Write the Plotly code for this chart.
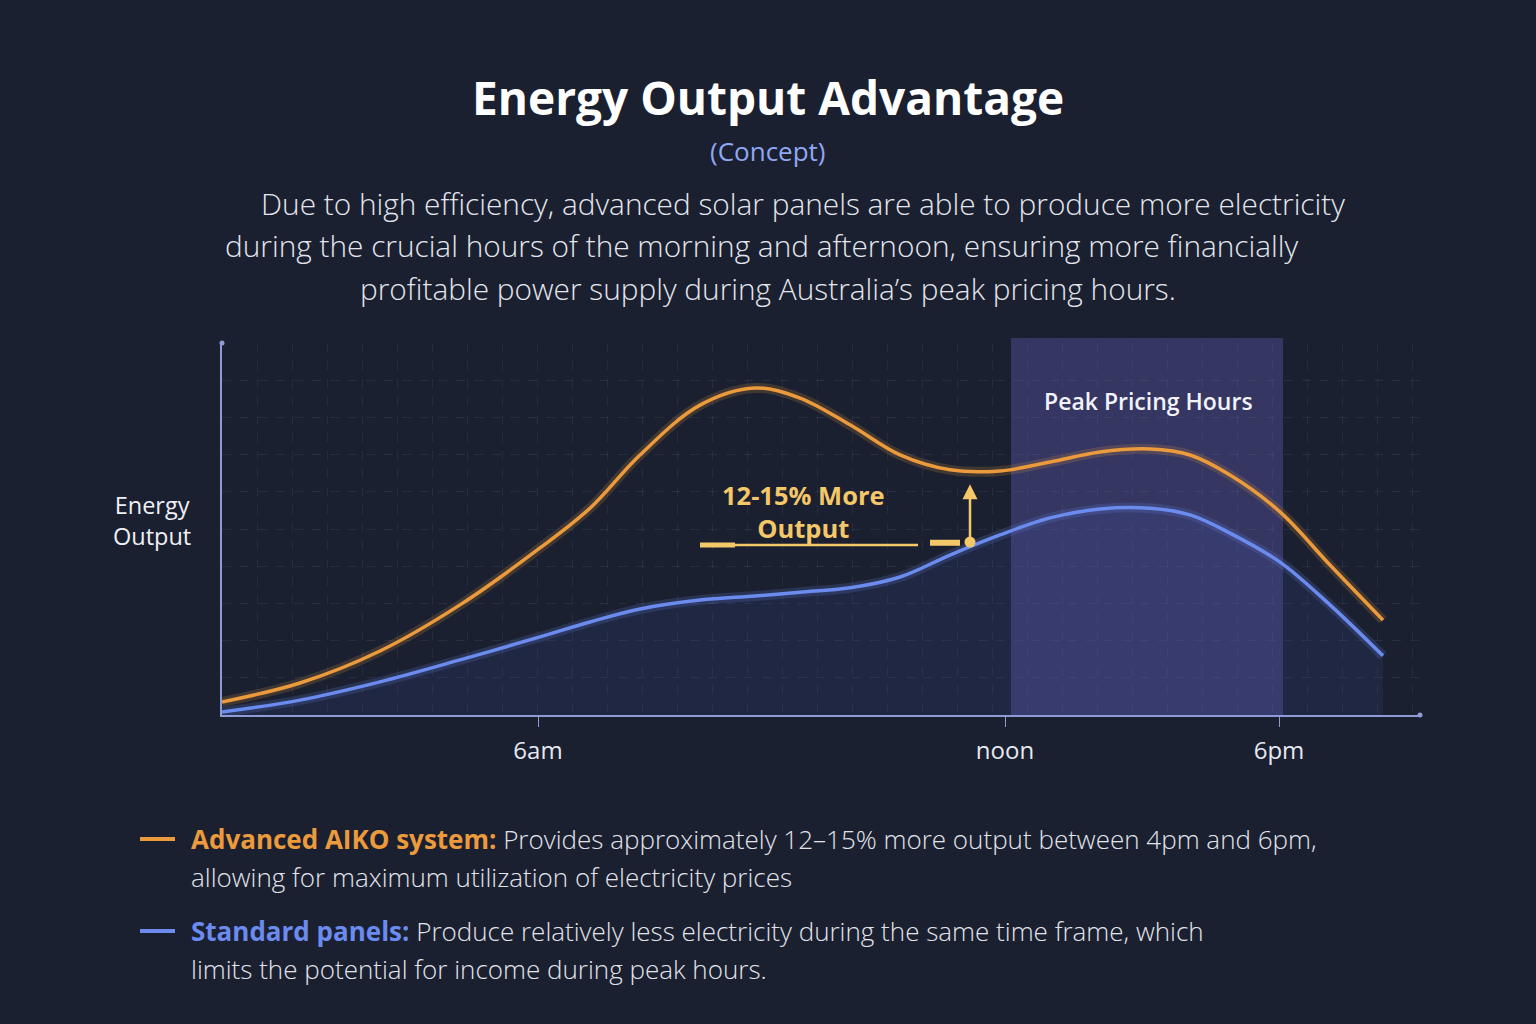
import plotly.graph_objects as go

# ---------------- data ----------------
pos = [0, 7.8, 15.8, 23.8, 31.8, 36.8, 41.8, 47.8, 53.3, 57.8, 62.8, 67.8, 72.8, 77.8,
       82.8, 87.8, 92.8, 96.8, 100.8, 105.8, 110.8, 116.1]
advanced = [3.5, 8.6, 17.2, 29.6, 44.9, 55.6, 69.9, 83.3, 87.9, 85.2, 78.0, 69.9, 65.9, 65.6,
            68.0, 70.7, 71.5, 69.9, 64.5, 54.6, 40.3, 25.5]
standard = [0.8, 4.0, 8.9, 14.8, 21.0, 25.0, 28.5, 30.9, 32.0, 33.0, 34.2, 37.1, 43.0, 48.4,
            53.0, 55.4, 55.6, 53.8, 48.9, 41.1, 29.6, 15.9]
tick_pos = [31.6, 78.3, 105.7]
tick_labels = ["6am", "noon", "6pm"]
peak_start, peak_end = 78.9, 106.1
gain_x = 74.8
gain_from, gain_to = 46.5, 62.0

W, H = 1536, 1024
BG = "#1b2030"
ORANGE = "#eb9a3c"
BLUE = "#6b8bef"
GOLD = "#f4c768"
AXIS = "#8e9bd4"


def px(p):
    return p / W


def py(p):
    return 1 - p / H


fig = go.Figure()


def text(t, cx, cy, size, color, weight=400, xanchor="center"):
    fig.add_annotation(x=px(cx), y=py(cy), xref="paper", yref="paper", showarrow=False,
                       xanchor=xanchor, yanchor="middle", text=t, borderpad=0,
                       font=dict(family="Open Sans", size=size, color=color, weight=weight))


# peak pricing band
fig.add_shape(type="rect", xref="x", yref="paper", x0=peak_start, x1=peak_end,
              y0=py(715), y1=py(338), fillcolor="rgba(98,92,180,0.38)", line_width=0,
              layer="below")

# blue area fill
fig.add_trace(go.Scatter(x=pos, y=standard, mode="lines", line=dict(width=0, shape="spline"),
                         fill="tozeroy", fillcolor="rgba(70,90,190,0.13)", hoverinfo="skip",
                         showlegend=False))
# glows
fig.add_trace(go.Scatter(x=pos, y=standard, mode="lines",
                         line=dict(color="rgba(107,139,239,0.18)", width=10, shape="spline"),
                         hoverinfo="skip", showlegend=False))
fig.add_trace(go.Scatter(x=pos, y=advanced, mode="lines",
                         line=dict(color="rgba(235,154,60,0.18)", width=10, shape="spline"),
                         hoverinfo="skip", showlegend=False))
# main curves
fig.add_trace(go.Scatter(x=pos, y=standard, mode="lines", name="Standard panels",
                         line=dict(color=BLUE, width=3.5, shape="spline"), showlegend=False))
fig.add_trace(go.Scatter(x=pos, y=advanced, mode="lines", name="Advanced AIKO system",
                         line=dict(color=ORANGE, width=3.5, shape="spline"), showlegend=False))

# axis end dots
fig.add_trace(go.Scatter(x=[0, 119.8], y=[100, 0], mode="markers",
                         marker=dict(color=AXIS, size=5), cliponaxis=False,
                         hoverinfo="skip", showlegend=False))

# gain annotation: leader lines, dot and arrow
fig.add_shape(type="line", xref="x", yref="y", x0=47.8, x1=69.6, y0=45.7, y1=45.7,
              line=dict(color=GOLD, width=2.5))
fig.add_shape(type="line", xref="x", yref="y", x0=47.8, x1=51.3, y0=45.7, y1=45.7,
              line=dict(color=GOLD, width=5))
fig.add_shape(type="line", xref="x", yref="y", x0=70.8, x1=73.8, y0=46.3, y1=46.3,
              line=dict(color=GOLD, width=6))
fig.add_trace(go.Scatter(x=[gain_x], y=[gain_from], mode="markers",
                         marker=dict(color=GOLD, size=11), hoverinfo="skip", showlegend=False))
fig.add_annotation(x=gain_x, y=gain_to, ax=gain_x, ay=gain_from, xref="x", yref="y",
                   axref="x", ayref="y", showarrow=True, arrowhead=2, arrowsize=1.2,
                   arrowwidth=2.5, arrowcolor=GOLD, text="")
text("<b>12-15% More<br>Output</b>", 803, 511, 25.5, GOLD)

text("Peak Pricing Hours", 1148, 401, 23, "#f2f3fa", 600)

# y axis title
text("Energy<br>Output", 152, 520, 23.5, "#eef0f6")

# title block
text("<b>Energy Output Advantage</b>", 768, 97, 46, "#ffffff")
text("(Concept)", 768, 151, 26, "#8fa8f2", 500)
para = [
    ("Due to high efficiency, advanced solar panels are able to produce more electricity", 803, 203),
    ("during the crucial hours of the morning and afternoon, ensuring more financially", 762, 245),
    ("profitable power supply during Australia\u2019s peak pricing hours.", 768, 288),
]
for t, cx, cy in para:
    text(t, cx, cy, 29.8, "#e4e6ee", 300)

# legend block
legend_lines = [
    (f"<b><span style='color:{ORANGE}'>Advanced AIKO system:</span></b> Provides approximately 12\u201315% more output between 4pm and 6pm,", 839),
    ("allowing for maximum utilization of electricity prices", 877),
    (f"<b><span style='color:{BLUE}'>Standard panels:</span></b> Produce relatively less electricity during the same time frame, which", 931),
    ("limits the potential for income during peak hours.", 969),
]
for t, cy in legend_lines:
    text(t, 190, cy, 26, "#e2e4ec", 300, xanchor="left")
for col, cy in [(ORANGE, 839), (BLUE, 931)]:
    fig.add_shape(type="line", xref="paper", yref="paper", x0=px(140), x1=px(175),
                  y0=py(cy), y1=py(cy), line=dict(color=col, width=4))

fig.update_layout(
    width=W, height=H, margin=dict(l=0, r=0, t=0, b=0),
    paper_bgcolor=BG, plot_bgcolor="rgba(0,0,0,0)",
    xaxis=dict(domain=[px(222), px(1420)], range=[0, 119.8], showline=True, linecolor=AXIS,
               linewidth=2, tickmode="array", tickvals=tick_pos, ticktext=tick_labels,
               ticks="outside", ticklen=10, tickcolor=AXIS, tickwidth=1.2,
               ticklabelstandoff=3,
               tickfont=dict(family="Open Sans", size=24, color="#e6e8f0"),
               showgrid=False, zeroline=False, fixedrange=True),
    yaxis=dict(domain=[py(715), py(343)], range=[0, 100], showline=True, linecolor=AXIS,
               linewidth=2, showticklabels=False, ticks="", showgrid=True, dtick=10,
               gridcolor="rgba(130,140,180,0.13)", griddash="dash", zeroline=False,
               fixedrange=True),
    xaxis2=dict(overlaying="x", domain=[px(222), px(1420)], range=[0, 119.8], dtick=3.5,
                showgrid=True, gridcolor="rgba(130,140,180,0.11)", griddash="dash",
                showticklabels=False, zeroline=False, showline=False, ticks=""),
)
fig.add_trace(go.Scatter(x=[0], y=[0], xaxis="x2", mode="markers",
                         marker=dict(opacity=0), hoverinfo="skip", showlegend=False))

fig.write_html("out.html")
